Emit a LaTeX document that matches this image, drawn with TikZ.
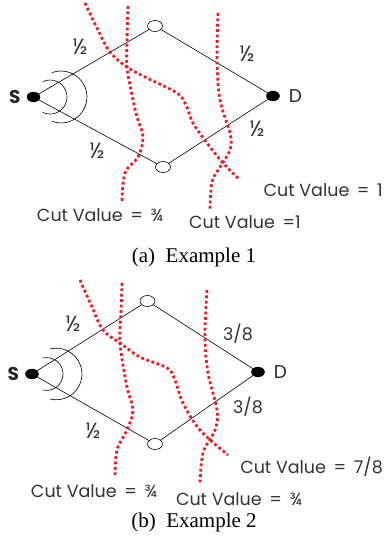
\documentclass[tikz,border=0pt]{standalone}
\usepackage{fontspec}
\setmainfont{Liberation Serif}
\newfontfamily\lblfont{Poppins}
\usetikzlibrary{shapes.geometric,positioning}
\definecolor{cutred}{HTML}{EE1C25}

\begin{document}
\begin{tikzpicture}[
  x=1pt, y=-1pt,
  term/.style={ellipse, draw=black, fill=black, minimum width=13pt, minimum height=10pt, inner sep=0pt},
  relay/.style={ellipse, draw=black, fill=white, line width=0.6pt, minimum width=15pt, minimum height=11pt, inner sep=0pt},
  link/.style={black, line width=0.6pt},
  wave/.style={black, line width=0.6pt},
  cut/.style={cutred, line width=2.8pt, dash pattern=on 2.8pt off 2.6pt},
  lbl/.style={font=\lblfont\fontsize{17.5}{19}\selectfont, text=black!80, inner sep=1pt},
  frac/.style={font=\lblfont\fontsize{22}{24}\selectfont, text=black!80, inner sep=1pt},
  termlbl/.style={font=\lblfont\fontsize{18.5}{20}\selectfont, text=black!85, inner sep=1pt},
  capt/.style={font=\fontsize{21}{23}\selectfont, inner sep=0pt},
]
\useasboundingbox (0,0) rectangle (385,548);

%% Example 1
\node[term]  (S1) at (33.5,97) {};
\node[term]  (D1) at (273,96) {};
\node[relay] (u1) at (155,26) {};
\node[relay] (v1) at (163,167) {};
\node[termlbl, left=5pt of S1] (s1) {\bfseries S};
\node[termlbl, right=8pt of D1] (d1) {D};

\draw[link] (S1) -- (u1) -- (D1) -- (v1) -- (S1);
\draw[wave] (50,97) ++(115:17) arc[start angle=115, end angle=-115, radius=17];
\draw[wave] (61,97) ++(111:26) arc[start angle=111, end angle=-111, radius=26];

\node[frac] (w1a) at (80,47)  {½};
\node[frac] (w1b) at (247,54) {½};
\node[frac] (w1c) at (257,129) {½};
\node[frac] (w1d) at (97,151) {½};

%% cuts
\draw[cut] plot[smooth, tension=0.6] coordinates {(85,3) (98,30) (110,52) (127,67) (147,78) (177,93) (186,105) (193,123) (207,143) (223,163) (240,180)};
\draw[cut] plot[smooth, tension=0.6] coordinates {(128,6) (127,40) (127,67) (132,95) (137,117) (143,137) (138,157) (125,173) (122,202)};
\draw[cut] plot[smooth, tension=0.6] coordinates {(218,13) (217,60) (220,100) (230,133) (230,150) (220,167) (212,182) (210,210)};

\node[lbl, anchor=east] (c1a) at (384,190) {Cut Value\,\ =\ \,1};
\node[lbl] (c1b) at (100,215) {Cut Value\,\ =\ \,¾};
\node[lbl] (c1c) at (245,222) {Cut Value\,\ =1};

\node[capt] (cap1) at (194,257) {(a)\ \ Example 1};

%% Example 2
\node[term]  (S2) at (32,374) {};
\node[term]  (D2) at (258,372) {};
\node[relay] (u2) at (147.5,301) {};
\node[relay] (v2) at (155,444) {};
\node[termlbl, left=5pt of S2] (s2) {\bfseries S};
\node[termlbl, right=8pt of D2] (d2) {D};

\draw[link] (S2) -- (u2) -- (D2) -- (v2) -- (S2);
\draw[wave] (46.6,374) ++(103:16.4) arc[start angle=103, end angle=-103, radius=16.4];
\draw[wave] (56.2,374) ++(104:25.8) arc[start angle=104, end angle=-104, radius=25.8];

\node[frac] (w2a) at (73,324)  {½};
\node[lbl] (w2b) at (238,334) {3/8};
\node[lbl] (w2c) at (248,407) {3/8};
\node[frac] (w2d) at (93,431)  {½};

%% cuts
\draw[cut] plot[smooth, tension=0.6] coordinates {(80,280) (92,307) (103,330) (120,343) (140,357) (167,368) (175,380) (183,403) (200,430) (228,455)};
\draw[cut] plot[smooth, tension=0.6] coordinates {(122,283) (121,313) (120,343) (127,387) (133,410) (127,430) (117,450) (115,478)};
\draw[cut] plot[smooth, tension=0.6] coordinates {(207,290) (205,337) (208,373) (217,410) (215,430) (203,453) (200,485)};

\node[lbl, anchor=east] (c2a) at (384,467) {Cut Value\,\ =\ \,7/8};
\node[lbl] (c2b) at (94,491)  {Cut Value\,\ =\ \,¾};
\node[lbl] (c2c) at (239,499) {Cut Value\,\ =\ \,¾};

\node[capt] (cap2) at (194,522) {(b)\ \ Example 2};

\end{tikzpicture}
\end{document}
